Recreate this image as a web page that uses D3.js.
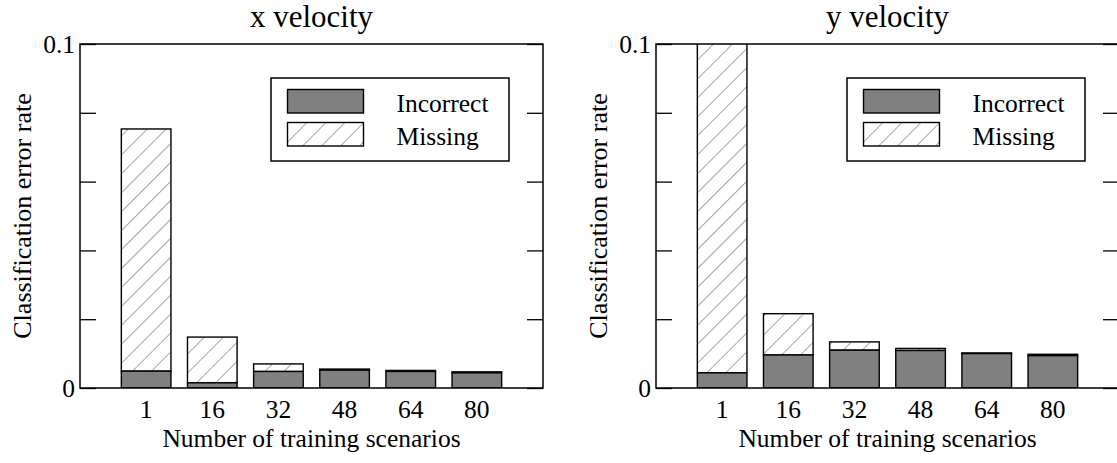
<!DOCTYPE html>
<html>
<head>
<meta charset="utf-8">
<script src="https://cdn.jsdelivr.net/npm/d3@7"></script>
<style>
  body { margin: 0; background: #fff; }
  svg text { font-family: "Liberation Serif", "Times New Roman", serif; fill: #000; }
</style>
</head>
<body>
<div id="chart"></div>
<script>
const scenarios = ["1", "16", "32", "48", "64", "80"];
const seriesNames = ["Incorrect", "Missing"];
const yTicks = [0, 0.02, 0.04, 0.06, 0.08, 0.1];

const xIncorrect = [0.0049, 0.0015, 0.0048, 0.0052, 0.0048, 0.0044];
const xMissing   = [0.0704, 0.0133, 0.0022, 0.0003, 0.0003, 0.0003];

const yIncorrect = [0.0044, 0.0096, 0.0110, 0.0109, 0.0100, 0.0094];
const yMissing   = [0.0980, 0.0120, 0.0024, 0.0006, 0.0002, 0.0004];

const W = 1117, H = 463;
const plotW = 463, plotH = 344, plotTop = 44;

const svg = d3.select("#chart")
  .append("svg")
    .attr("width", W)
    .attr("height", H);

const defs = svg.append("defs");
defs.append("pattern")
    .attr("id", "hatch")
    .attr("patternUnits", "userSpaceOnUse")
    .attr("width", 13.4)
    .attr("height", 13.4)
    .attr("patternTransform", "rotate(45)")
  .append("line")
    .attr("x1", 0).attr("y1", -2)
    .attr("x2", 0).attr("y2", 16)
    .attr("stroke", "#808080")
    .attr("stroke-width", 1.4);

function drawPanel(left, title, incorrect, missing, id) {
  const g = svg.append("g")
    .attr("transform", `translate(${left},${plotTop})`);

  const x = d3.scaleBand()
    .domain(scenarios)
    .range([0, plotW])
    .paddingInner(0.25)
    .paddingOuter(0.625);

  const y = d3.scaleLinear()
    .domain([0, 0.1])
    .range([plotH, 0]);

  const rows = scenarios.map((s, i) => ({
    s, inc: incorrect[i], miss: missing[i]
  }));

  defs.append("clipPath")
      .attr("id", "clip" + id)
    .append("rect")
      .attr("width", plotW)
      .attr("height", plotH);

  const bars = g.append("g").attr("clip-path", `url(#clip${id})`);

  bars.selectAll("rect.miss")
    .data(rows)
    .join("rect")
      .attr("class", "miss")
      .attr("x", d => x(d.s))
      .attr("y", d => y(d.inc + d.miss))
      .attr("width", x.bandwidth())
      .attr("height", d => y(d.inc) - y(d.inc + d.miss))
      .attr("fill", "url(#hatch)")
      .attr("stroke", "#000")
      .attr("stroke-width", 1.4);

  bars.selectAll("rect.inc")
    .data(rows)
    .join("rect")
      .attr("class", "inc")
      .attr("x", d => x(d.s))
      .attr("y", d => y(d.inc))
      .attr("width", x.bandwidth())
      .attr("height", d => y(0) - y(d.inc))
      .attr("fill", "#808080")
      .attr("stroke", "#000")
      .attr("stroke-width", 1.4);

  // frame
  g.append("rect")
    .attr("width", plotW)
    .attr("height", plotH)
    .attr("fill", "none")
    .attr("stroke", "#000")
    .attr("stroke-width", 1.5);

  const yAxis = d3.axisLeft(y)
    .tickValues(yTicks)
    .tickSize(-16)
    .tickPadding(5)
    .tickFormat(v => (v === 0 ? "0" : v === 0.1 ? "0.1" : ""));

  const ga = g.append("g").call(yAxis);
  ga.select(".domain").remove();
  ga.selectAll("line").attr("stroke", "#000").attr("stroke-width", 1.3);
  ga.selectAll("text").style("font-size", "25.5px");

  const yAxisR = d3.axisRight(y)
    .tickValues(yTicks)
    .tickSize(-16)
    .tickFormat("");
  const gr = g.append("g")
    .attr("transform", `translate(${plotW},0)`)
    .call(yAxisR);
  gr.select(".domain").remove();
  gr.selectAll("line").attr("stroke", "#000").attr("stroke-width", 1.3);

  const xAxis = d3.axisBottom(x).tickSize(0).tickPadding(12);
  const gx = g.append("g")
    .attr("transform", `translate(0,${plotH})`)
    .call(xAxis);
  gx.select(".domain").remove();
  gx.selectAll("text").style("font-size", "25.5px");

  g.append("text")
    .attr("x", plotW / 2)
    .attr("y", -17)
    .attr("text-anchor", "middle")
    .style("font-size", "31px")
    .text(title);

  g.append("text")
    .attr("x", plotW / 2)
    .attr("y", plotH + 59)
    .attr("text-anchor", "middle")
    .style("font-size", "25.5px")
    .text("Number of training scenarios");

  g.append("text")
    .attr("transform", `translate(-49,${plotH / 2}) rotate(-90)`)
    .attr("text-anchor", "middle")
    .style("font-size", "26px")
    .text("Classification error rate");

  // legend
  const lg = g.append("g")
    .attr("transform", `translate(${plotW - 272},34)`);
  lg.append("rect")
    .attr("width", 238)
    .attr("height", 83)
    .attr("fill", "#fff")
    .attr("stroke", "#000")
    .attr("stroke-width", 1.5);

  const items = lg.selectAll("g.item")
    .data(seriesNames)
    .join("g")
      .attr("class", "item")
      .attr("transform", (d, i) => `translate(16.5,${11.5 + i * 33})`);
  items.append("rect")
    .attr("width", 76)
    .attr("height", 23.5)
    .attr("fill", (d, i) => i === 0 ? "#808080" : "url(#hatch)")
    .attr("stroke", "#000")
    .attr("stroke-width", 1.4);
  items.append("text")
    .attr("x", 109)
    .attr("y", 22)
    .style("font-size", "25.5px")
    .text(d => d);
}

drawPanel(80, "x velocity", xIncorrect, xMissing, "L");
drawPanel(656, "y velocity", yIncorrect, yMissing, "R");
</script>
</body>
</html>
